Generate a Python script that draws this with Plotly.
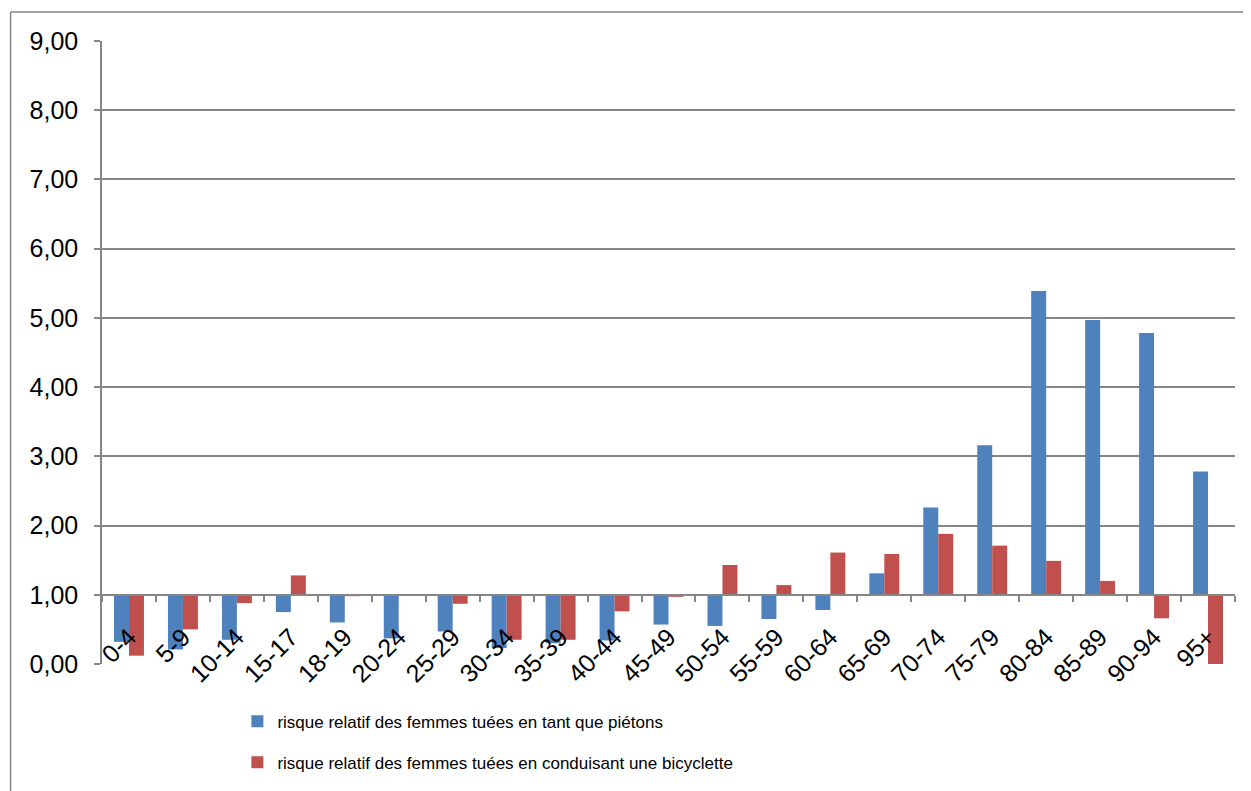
"""Relative risk of women killed, pedestrians vs cyclists, by age group."""
import plotly.graph_objects as go

AGE_GROUPS = [
    "0-4", "5-9", "10-14", "15-17", "18-19", "20-24", "25-29", "30-34",
    "35-39", "40-44", "45-49", "50-54", "55-59", "60-64", "65-69", "70-74",
    "75-79", "80-84", "85-89", "90-94", "95+",
]
PIETONS = [
    0.32, 0.21, 0.35, 0.75, 0.60, 0.37, 0.47, 0.23, 0.30, 0.34, 0.57,
    0.55, 0.65, 0.78, 1.31, 2.26, 3.16, 5.39, 4.97, 4.78, 2.78,
]
BICYCLETTE = [
    0.12, 0.50, 0.88, 1.28, 0.98, 1.01, 0.87, 0.35, 0.35, 0.76, 0.97,
    1.43, 1.14, 1.61, 1.59, 1.88, 1.71, 1.49, 1.20, 0.66, 0.00,
]
BASELINE = 1.0
Y_MAX = 9
Y_TICKS = list(range(0, Y_MAX + 1))

NAMES = [
    "risque relatif des femmes tuées en tant que piétons",
    "risque relatif des femmes tuées en conduisant une bicyclette",
]
COLORS = ["#4F81BD", "#C0504D"]
GRID = "#868686"

# the page body adds an 8px offset, margins below compensate for it
OFF = 8
W, H = 1251, 791
ML, MR, MT, MB = 101.5 - OFF, 1251 - 1235.5 + OFF, 41 - OFF, 791 - 664.3 + OFF
plot_w = W - ML - MR
plot_h = H - MT - MB

fig = go.Figure()
for name, vals, color, grp in zip(NAMES, [PIETONS, BICYCLETTE], COLORS, ["a", "b"]):
    fig.add_trace(
        go.Bar(
            x=AGE_GROUPS,
            y=[v - BASELINE for v in vals],
            base=[BASELINE] * len(vals),
            name=name,
            legendgroup=grp,
            marker=dict(color=color, line=dict(width=0)),
            hoverinfo="skip",
        )
    )

# outer chart frame (only top and left edges are visible in the source)
fx0 = (10 - OFF - ML) / plot_w
fy0 = 1 + (MT - (12 - OFF)) / plot_h
fig.add_shape(type="line", xref="paper", yref="paper", x0=fx0, x1=1.1, y0=fy0, y1=fy0,
              line=dict(color=GRID, width=1.5))
fig.add_shape(type="line", xref="paper", yref="paper", x0=fx0, x1=fx0, y0=fy0, y1=-0.3,
              line=dict(color=GRID, width=1.5))

fig.update_layout(
    width=W,
    height=H,
    margin=dict(l=ML, r=MR, t=MT, b=MB, pad=0, autoexpand=False),
    paper_bgcolor="white",
    plot_bgcolor="white",
    separators=", ",
    font=dict(family="Liberation Sans, Arial, sans-serif", size=18, color="black"),
    barmode="group",
    bargap=0.445,
    bargroupgap=0,
    xaxis=dict(
        type="category",
        anchor="free",
        position=BASELINE / Y_MAX,
        showline=True,
        linecolor=GRID,
        linewidth=1.5,
        ticks="outside",
        tickson="boundaries",
        ticklen=6,
        tickcolor=GRID,
        tickwidth=1.5,
        tickangle=-45,
        showgrid=False,
        automargin=False,
        ticklabelstandoff=17,
        tickfont=dict(size=25),
    ),
    yaxis=dict(
        range=[0, Y_MAX],
        tickvals=Y_TICKS,
        tickformat=".2f",
        showline=True,
        linecolor=GRID,
        linewidth=1.5,
        ticks="outside",
        ticklen=6,
        tickcolor=GRID,
        tickwidth=1.5,
        showgrid=True,
        gridcolor=GRID,
        gridwidth=1.5,
        zeroline=False,
        automargin=False,
        ticklabelstandoff=11,
        tickfont=dict(size=25),
    ),
    legend=dict(
        x=(229 - ML) / plot_w,
        y=-(696 - MT - plot_h) / plot_h,
        xanchor="left",
        yanchor="top",
        orientation="v",
        tracegroupgap=16,
        font=dict(size=17),
        bgcolor="rgba(0,0,0,0)",
        itemwidth=30,
    ),
    showlegend=True,
)

fig.write_html("out.html")
